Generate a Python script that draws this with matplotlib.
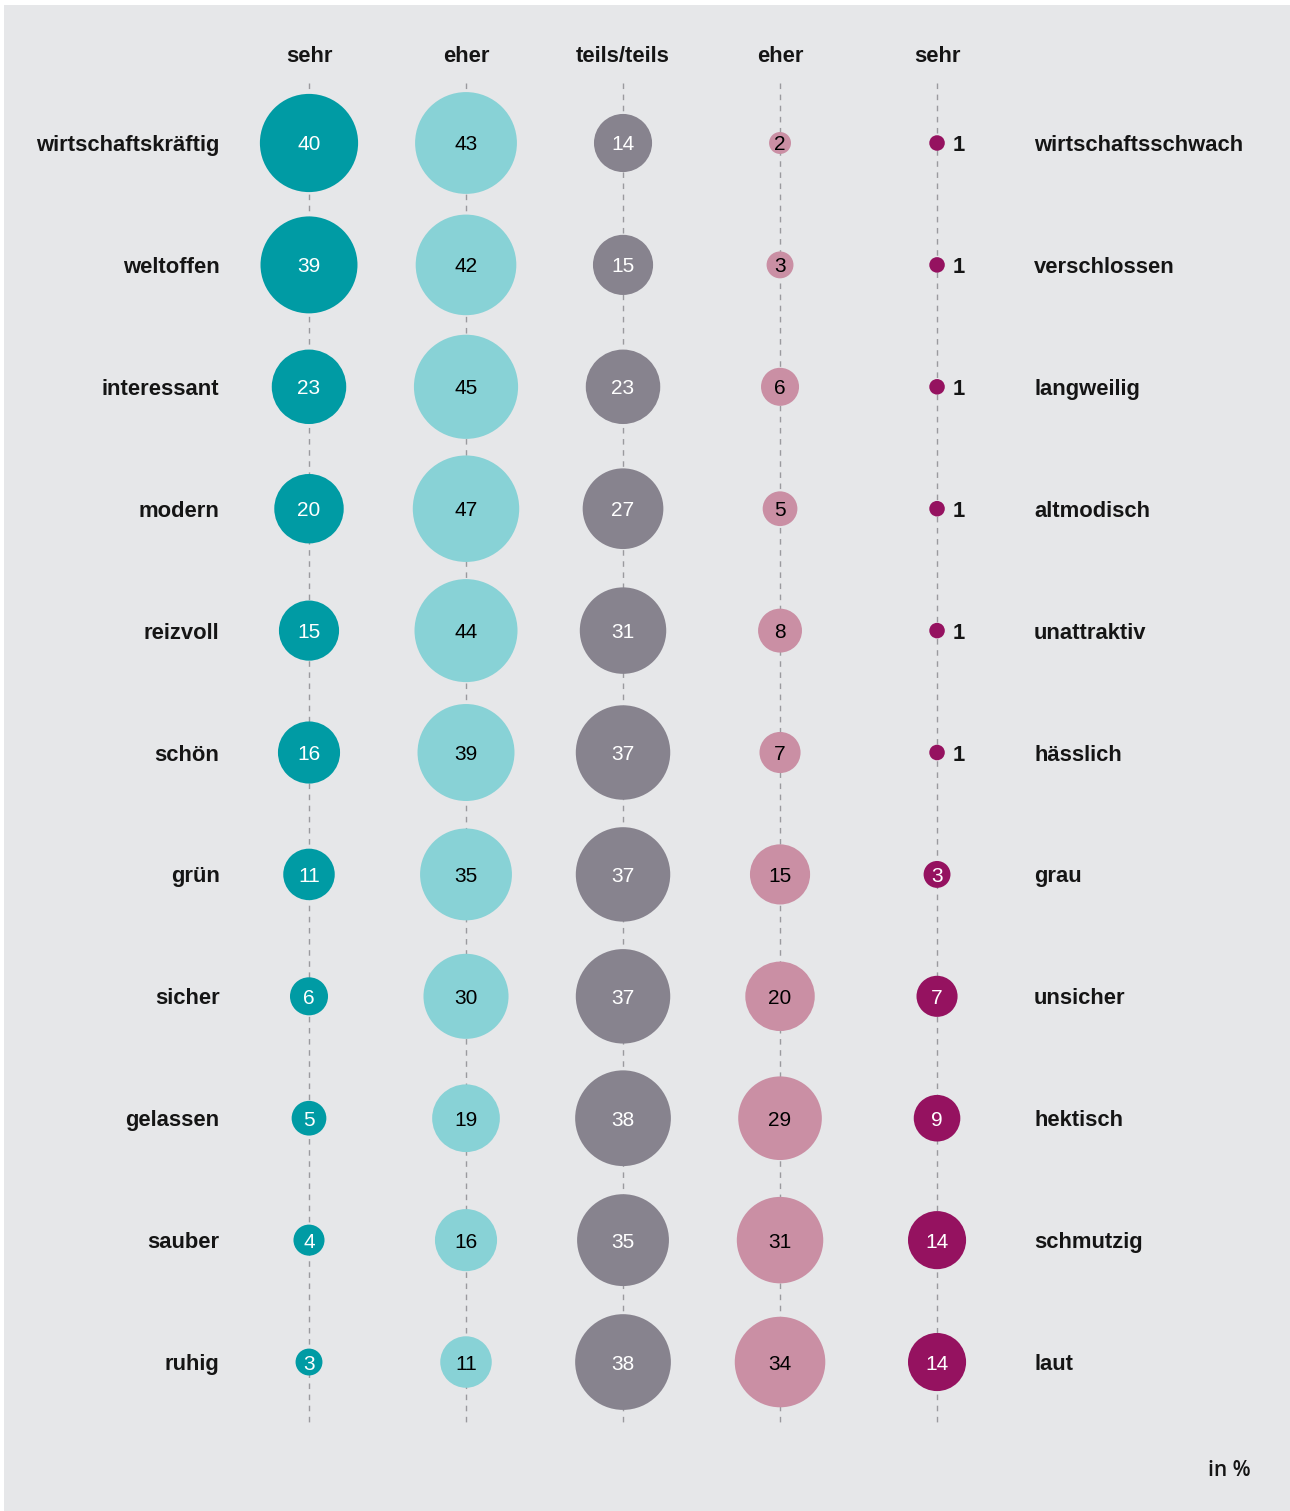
import matplotlib
matplotlib.use("Agg")
from matplotlib import pyplot as plt
from matplotlib.patches import Rectangle

# data
left_labels = ["wirtschaftskräftig", "weltoffen", "interessant", "modern", "reizvoll", "schön",
               "grün", "sicher", "gelassen", "sauber", "ruhig"]
right_labels = ["wirtschaftsschwach", "verschlossen", "langweilig", "altmodisch", "unattraktiv",
                "hässlich", "grau", "unsicher", "hektisch", "schmutzig", "laut"]
headers = ["sehr", "eher", "teils/teils", "eher", "sehr"]

sehr_pos = [40, 39, 23, 20, 15, 16, 11, 6, 5, 4, 3]
eher_pos = [43, 42, 45, 47, 44, 39, 35, 30, 19, 16, 11]
teils = [14, 15, 23, 27, 31, 37, 37, 37, 38, 35, 38]
eher_neg = [2, 3, 6, 5, 8, 7, 15, 20, 29, 31, 34]
sehr_neg = [1, 1, 1, 1, 1, 1, 3, 7, 9, 14, 14]

columns = [sehr_pos, eher_pos, teils, eher_neg, sehr_neg]
fill_colors = ["#009BA4", "#88D2D6", "#87838E", "#CA8FA4", "#951260"]
text_colors = ["white", "black", "white", "black", "white"]

BG = "#E6E7E9"
FONT = "Liberation Sans"

fig = plt.figure(figsize=(12.9, 15.11), dpi=100)
fig.patch.set_facecolor("white")
fig.patches.append(Rectangle((4 / 1290, 0), 1, 1 - 5 / 1511, transform=fig.transFigure,
                             facecolor=BG, edgecolor="none", zorder=-10))

ax = fig.add_axes([0, 0, 1, 1])
ax.set_facecolor("none")
ax.set_xlim(-1.968, 6.248)
ax.set_ylim(11.222, -1.173)
ax.axis("off")

n_rows = len(left_labels)
rows = list(range(n_rows))
label_kw = dict(va="center_baseline", fontsize=15.8, family=FONT, weight="bold", color="#151515")

for ci, (values, fc, tc) in enumerate(zip(columns, fill_colors, text_colors)):
    ax.plot([ci, ci], [-0.49, 10.49], color="#9A9A9E", lw=1.0, ls=(0, (4, 4)), zorder=1)
    ax.scatter([ci] * n_rows, rows, s=[125 * v for v in values], color=fc, edgecolors="none", zorder=2)
    for r, v in zip(rows, values):
        if v <= 1:
            ax.text(ci + 0.1, r, str(v), ha="left", **label_kw)
        else:
            ax.text(ci, r, str(v), ha="center", va="center_baseline", fontsize=15,
                    color=tc, family=FONT)
    ax.text(ci, -0.73, headers[ci], ha="center", **label_kw)

for r in rows:
    ax.text(-0.57, r, left_labels[r], ha="right", **label_kw)
    ax.text(4.618, r, right_labels[r], ha="left", **label_kw)

ax.text(6.0, 10.87, "in %", ha="right", va="center_baseline", fontsize=15,
        family="Open Sans", weight="semibold", color="#151515")

fig.savefig("out.png", dpi=100, facecolor=fig.get_facecolor())
